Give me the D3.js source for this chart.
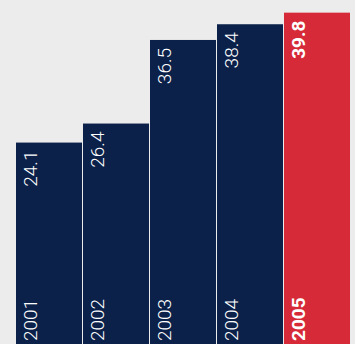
<!DOCTYPE html>
<html>
<head>
<meta charset="utf-8">
<script src="https://cdn.jsdelivr.net/npm/d3@7/dist/d3.min.js"></script>
<style>
  html, body { margin: 0; padding: 0; background: #ececec; }
  svg { display: block; }
  text { font-family: Roboto, "Liberation Sans", Arial, sans-serif; }
</style>
</head>
<body>
<div id="chart"></div>
<script>
// Annual values, 2001–2005; the latest year is highlighted
const years = ["2001", "2002", "2003", "2004", "2005"];
const values = [24.1, 26.4, 36.5, 38.4, 39.8];
const highlightYear = "2005";

const width = 355, height = 344;
const navy = "#0b2149", red = "#d62a38";

const svg = d3.select("#chart").append("svg")
  .attr("width", width)
  .attr("height", height);

const x = d3.scaleBand()
  .domain(years)
  .range([16, 350])
  .paddingInner(0.015)
  .paddingOuter(0);

const y = d3.scaleLinear()
  .domain([0, 40])
  .range([342, 11]);

const data = years.map((yr, i) => ({ year: yr, value: values[i], hi: yr === highlightYear }));

const g = svg.selectAll("g.bar").data(data).join("g").attr("class", "bar");

// bars run off the bottom edge of the chart
g.append("rect")
  .attr("x", d => x(d.year))
  .attr("y", d => y(d.value))
  .attr("width", x.bandwidth())
  .attr("height", d => height - y(d.value))
  .attr("fill", d => d.hi ? red : navy);

// value label, reading upward, just under the bar top
g.append("text")
  .attr("transform", d => `translate(${x(d.year) + 21},${y(d.value) + 8}) rotate(-90)`)
  .attr("text-anchor", "end")
  .attr("fill", "#fff")
  .attr("font-size", 19)
  .attr("font-weight", d => d.hi ? 700 : 300)
  .text(d => d.value.toFixed(1));

// year label at the foot of each bar
g.append("text")
  .attr("transform", d => `translate(${x(d.year) + 21},${height - 3}) rotate(-90)`)
  .attr("text-anchor", "start")
  .attr("fill", "#fff")
  .attr("font-size", 19)
  .attr("font-weight", d => d.hi ? 700 : 300)
  .text(d => d.year);
</script>
</body>
</html>
